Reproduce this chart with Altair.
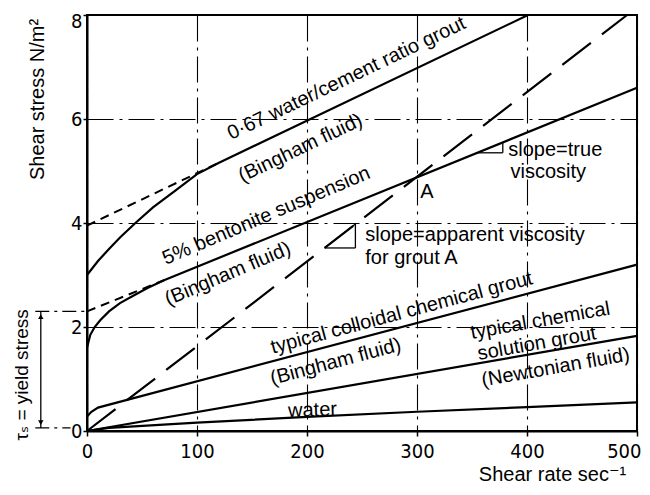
import altair as alt
import pandas as pd

FONT = "Liberation Sans, Arial, DejaVu Sans, sans-serif"
NARROW = "Liberation Sans Narrow, DejaVu Sans Condensed, Liberation Sans, sans-serif"

# ---- axis ticks ----
x_ticks = [0, 100, 200, 300, 400, 500]
y_ticks = [0, 2, 4, 6, 8]

# ---- curves (shear rate, shear stress) ----
cement_x = [0, 10, 20, 30, 44, 60, 80, 100, 120, 400]
cement_y = [3.0, 3.27, 3.5, 3.72, 4.0, 4.3, 4.62, 4.94, 5.16, 7.99]
cement_ext_x = [0, 120]
cement_ext_y = [3.95, 5.16]

bent_x = [0, 3, 7, 12, 20, 30, 42, 55, 70, 500]
bent_y = [1.6, 1.85, 2.0, 2.13, 2.3, 2.46, 2.6, 2.75, 2.9, 6.6]
bent_ext_x = [0, 70]
bent_ext_y = [2.3, 2.9]

colloid_x = [0, 4, 10, 500]
colloid_y = [0.28, 0.37, 0.45, 3.2]

newton_x = [0, 500]
newton_y = [0, 1.83]

water_x = [0, 20, 100, 200, 300, 400, 500]
water_y = [0, 0.06, 0.16, 0.27, 0.37, 0.46, 0.55]

groutA_x = [0, 491]
groutA_y = [0, 8]

# ---- annotation texts ----
center_text = ["0·67 water/cement ratio grout", "(Bingham fluid)",
               "5% bentonite suspension", "(Bingham fluid)",
               "typical colloidal chemical grout", "(Bingham fluid)",
               "typical chemical", "solution grout", "(Newtonian fluid)",
               "water", "A", "τₛ = yield stress"]
center_x = [236, 194, 163, 128, 286, 226, 412, 409, 426, 205, 309, -59]
center_y = [6.78, 5.44, 4.14, 3.02, 2.27, 1.33, 2.12, 1.68, 1.22, 0.40, 4.6, 1.08]
center_angle = [334.5, 334.5, 337, 337, 345, 345, 350, 350, 350, 358, 0, 270]
center_size = [20, 20, 20, 20, 20, 20, 20, 20, 20, 20, 20, 19]

left_text = ["slope=apparent viscosity", "for grout A", "slope=true", "viscosity"]
left_x = [253, 253, 383, 385]
left_y = [3.77, 3.33, 5.40, 4.98]

# ---- slope triangles / yield stress marker (segments) ----
seg_x = [216, 244, 216, 355, 378, -42]
seg_x2 = [244, 244, 244, 378, 378, -42]
seg_y = [3.52, 3.52, 3.52, 5.35, 5.35, 2.3]
seg_y2 = [3.98, 3.98, 3.52, 5.35, 5.55, 0.06]

dd_x = [-47, -47]
dd_x2 = [0, -15]
dd_y = [2.3, 0.06]

arrow_x = [-42, -42]
arrow_y = [2.2, 0.16]
arrow_shape = ["triangle-up", "triangle-down"]


def series(name, xs, ys):
    return pd.DataFrame({"series": name, "x": xs, "y": ys, "i": list(range(len(xs)))})


solid = pd.concat([
    series("cement", cement_x, cement_y),
    series("bentonite", bent_x, bent_y),
    series("colloid", colloid_x, colloid_y),
    series("newton", newton_x, newton_y),
    series("water", water_x, water_y),
])
short_dash = pd.concat([
    series("cement_ext", cement_ext_x, cement_ext_y),
    series("bent_ext", bent_ext_x, bent_ext_y),
])
long_dash = series("groutA", groutA_x, groutA_y)

ctext = pd.DataFrame({"t": center_text, "x": center_x, "y": center_y,
                      "a": center_angle, "s": center_size})
ltext = pd.DataFrame({"t": left_text, "x": left_x, "y": left_y})
segs = pd.DataFrame({"x": seg_x, "x2": seg_x2, "y": seg_y, "y2": seg_y2})
dd = pd.DataFrame({"x": dd_x, "x2": dd_x2, "y": dd_y})
arrows = pd.DataFrame({"x": arrow_x, "y": arrow_y, "shape": arrow_shape})

xs = alt.Scale(domain=[0, 500], nice=False, zero=False)
ys = alt.Scale(domain=[0, 8], nice=False, zero=False)

common_axis = dict(grid=True, gridDash=[26, 6, 3, 6], gridColor="black",
                   gridWidth=1.1, gridOpacity=1, domainColor="black", domainWidth=2,
                   tickColor="black", tickWidth=1.5, labelFont=NARROW,
                   labelFontSize=20, labelColor="black", titleFont=FONT,
                   titleFontSize=20, titleFontWeight="normal", titleColor="black",
                   titleAlign="center", titleBaseline="middle", labelFlush=False)

xaxis = alt.Axis(values=x_ticks, title="Shear rate sec⁻¹", tickSize=5,
                 labelPadding=5, titleX=465, titleY=43, titleAngle=0,
                 labelAlign={"condition": {"test": "datum.value === 500", "value": "right"},
                             "value": "center"},
                 labelOffset={"condition": {"test": "datum.value === 500", "value": 4},
                              "value": 0},
                 **common_axis)
yaxis = alt.Axis(values=y_ticks, title="Shear stress N/m²", tickSize=4,
                 labelPadding=1, titleX=-50, titleY=84, titleAngle=270,
                 labelOffset={"condition": {"test": "datum.value === 8", "value": 6},
                              "value": 0},
                 **common_axis)

solid_layer = alt.Chart(solid).mark_line(color="black", strokeWidth=2.2).encode(
    x=alt.X("x:Q", scale=xs, axis=xaxis),
    y=alt.Y("y:Q", scale=ys, axis=yaxis),
    detail="series:N",
    order="i:Q",
)
short_layer = alt.Chart(short_dash).mark_line(color="black", strokeWidth=2,
                                              strokeDash=[9, 6]).encode(
    x=alt.X("x:Q", scale=xs), y=alt.Y("y:Q", scale=ys), detail="series:N")
long_layer = alt.Chart(long_dash).mark_line(color="black", strokeWidth=2.2,
                                            strokeDash=[36, 14]).encode(
    x=alt.X("x:Q", scale=xs), y=alt.Y("y:Q", scale=ys))

seg_layer = alt.Chart(segs).mark_rule(color="black", strokeWidth=1.3).encode(
    x=alt.X("x:Q", scale=xs), x2="x2:Q", y=alt.Y("y:Q", scale=ys), y2="y2:Q")
dd_layer = alt.Chart(dd).mark_rule(color="black", strokeWidth=1.1,
                                   strokeDash=[14, 5, 3, 5]).encode(
    x=alt.X("x:Q", scale=xs), x2="x2:Q", y=alt.Y("y:Q", scale=ys))
arrow_layer = alt.Chart(arrows).mark_point(filled=True, color="black", size=30,
                                           opacity=1).encode(
    x=alt.X("x:Q", scale=xs), y=alt.Y("y:Q", scale=ys),
    shape=alt.Shape("shape:N", scale=None))

ctext_layer = alt.Chart(ctext).mark_text(font=FONT, color="black", align="center",
                                         baseline="middle").encode(
    x=alt.X("x:Q", scale=xs), y=alt.Y("y:Q", scale=ys), text="t:N",
    angle=alt.Angle("a:Q", scale=None), size=alt.Size("s:Q", scale=None))
ltext_layer = alt.Chart(ltext).mark_text(font=FONT, color="black", align="left",
                                         baseline="middle", fontSize=20).encode(
    x=alt.X("x:Q", scale=xs), y=alt.Y("y:Q", scale=ys), text="t:N")

chart = alt.layer(solid_layer, short_layer, long_layer, seg_layer, dd_layer,
                  arrow_layer, ctext_layer, ltext_layer).properties(
    width=550, height=416,
    autosize=alt.AutoSizeParams(type="none"),
    padding={"left": 79, "top": 7, "right": 5, "bottom": 52},
    background="white",
).configure_view(stroke="black", strokeWidth=2)

chart.save("out.html", embed_options={"renderer": "svg", "actions": False})
